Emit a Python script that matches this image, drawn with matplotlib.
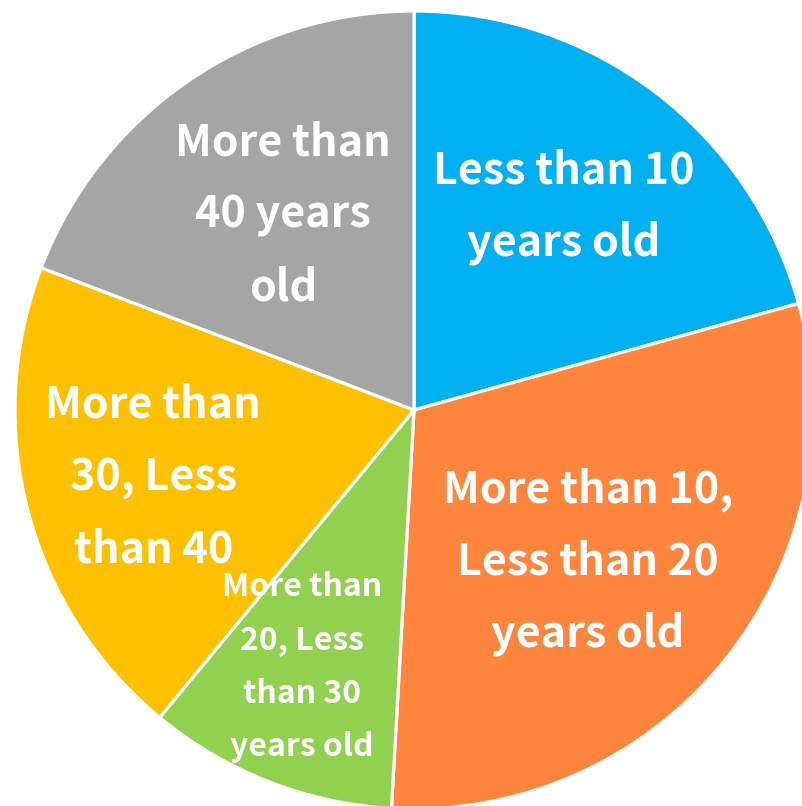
import matplotlib
matplotlib.use("Agg")
import matplotlib.pyplot as plt
import numpy as np

categories = ["Less than 10\nyears old",
              "More than 10,\nLess than 20\nyears old",
              "More than\n20, Less\nthan 30\nyears old",
              "More than\n30, Less\nthan 40",
              "More than\n40 years\nold"]
values = [20.7, 30.2, 10.1, 19.8, 19.2]
colors = ["#00B0F0", "#FF843C", "#92D050", "#FFC000", "#A5A5A5"]
label_dist = [0.631, 0.579, 0.703, 0.675, 0.589]
label_ang_off = [0.9, -2.25, -2.1, -0.35, -0.65]
label_size = [31, 31, 23, 31, 31]
label_spacing = [1.8, 1.8, 1.86, 1.8, 1.8]

W, H = 802, 806
cx, cy, R = 414, 410, 399

fig = plt.figure(figsize=(W / 100, H / 100), dpi=100)
ax = fig.add_axes([0, 0, 1, 1])
wedges, _ = ax.pie(values, colors=colors, startangle=90, counterclock=False,
                   wedgeprops=dict(edgecolor="white", linewidth=2.3))
ax.set_aspect("auto")
ax.set_xlim(-cx / R, (W - cx) / R)
ax.set_ylim(-(H - cy) / R, cy / R)
ax.axis("off")

for w, lab, d, off, fs, ls in zip(wedges, categories, label_dist, label_ang_off,
                                  label_size, label_spacing):
    ang = np.deg2rad((w.theta1 + w.theta2) / 2 + off)
    ax.text(d * np.cos(ang), d * np.sin(ang), lab, ha="center", va="center",
            color="white", fontsize=fs, fontweight="bold", linespacing=ls,
            multialignment="center", family=["Noto Sans CJK JP", "DejaVu Sans"])

fig.savefig("out.png", dpi=100)
